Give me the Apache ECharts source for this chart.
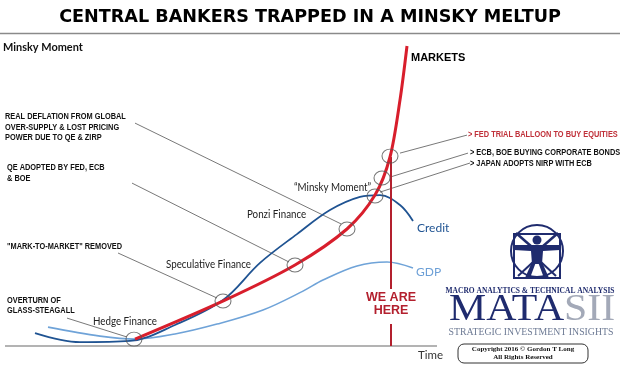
<!DOCTYPE html>
<html><head><meta charset="utf-8">
<script src="https://cdn.jsdelivr.net/npm/echarts/dist/echarts.min.js"></script>
<style>html,body{margin:0;padding:0;background:#fff}#c{width:620px;height:365px}</style>
</head><body><div id="c"></div><script>
// Time units (x) and level units (y)
const markets = [[32.5,2.3],[55.0,15.3],[72.5,27.0],[85.5,39.0],[92.5,50.3],[96.25,63.0],[98.75,82.0],[100.5,100]];
const credit = [[7.5,4.3],[18.75,1.3],[31.25,1.7],[42.5,7.0],[54.5,15.3],[63.75,27.7],[73.0,37.3],[81.25,45.3],[88.75,49.7],[93.75,50.3],[98.75,47.0],[102.0,41.7]];
const gdp = [[10.75,6.3],[23.75,3.3],[32.5,2.3],[42.5,4.0],[53.0,7.3],[64.5,12.0],[74.5,18.3],[79.5,22.0],[88.0,26.7],[95.5,28.0],[102.0,26.0]];
const circles = [[32.25,2.3],[54.5,15.0],[72.5,27.0],[85.5,39.0],[92.5,50.0],[94.25,56.0],[96.25,63.3]];
const leaders = [
  [[15.5,9.3],[30.5,3.0]],
  [[28.25,31.0],[53.0,16.0]],
  [[31.75,54.3],[71.0,28.0]],
  [[32.5,74.3],[84.0,40.7]],
  [[98.75,64.3],[115.5,70.3]],
  [[96.25,56.3],[115.75,64.3]],
  [[93.75,51.3],[116.25,61.0]]
];
const baseline = [[0,0],[108,0]];
const nowX = 96.5;
const nowUpper = [[nowX,63],[nowX,19]];
const nowLower = [[nowX,7.3],[nowX,0]];
const leftNotes = [
  ['REAL DEFLATION FROM GLOBAL',5,117],['OVER-SUPPLY & LOST PRICING',5,127.5],['POWER DUE TO QE & ZIRP',5,138],
  ['QE ADOPTED BY FED, ECB',7,168],['& BOE',7,179],
  ['"MARK-TO-MARKET" REMOVED',7,247],
  ['OVERTURN OF',7,301],['GLASS-STEAGALL',7,311]
];
const rightNotes = [
  ['> FED TRIAL BALLOON TO BUY EQUITIES',468,135,'#c0313a'],
  ['> ECB, BOE BUYING CORPORATE BONDS',470,153,'#111'],
  ['> JAPAN ADOPTS NIRP WITH ECB',470,163.5,'#111']
];
const stageLabels = [['Hedge Finance',93,322],['Speculative Finance',166,265],['Ponzi Finance',247,215],['\u201CMinsky Moment\u201D',294,188]];

const sans = '"Liberation Sans",sans-serif';
function T(text,x,y,o){o=o||{};return {type:'text',x:x,y:y,z:10,scaleX:o.sx||1,style:{text:text,fill:o.fill||'#111',fontSize:o.size||9,fontFamily:o.family||sans,fontWeight:o.weight||'bold',align:o.align||'left',verticalAlign:'middle'}};}

const graphics = [];
graphics.push(T('CENTRAL BANKERS TRAPPED IN A MINSKY MELTUP',310,17,{size:17.6,family:'"DejaVu Sans",sans-serif',align:'center',fill:'#000'}));
graphics.push({type:'line',shape:{x1:0,y1:33.5,x2:620,y2:33.5},style:{stroke:'#8a8a8a',lineWidth:1.5}});
graphics.push(T('Minsky Moment',3,47,{size:11.5,family:'Lato,sans-serif',fill:'#111',sx:0.95}));
graphics.push(T('MARKETS',411,58,{size:11,fill:'#000'}));
leftNotes.forEach(n=>graphics.push(T(n[0],n[1],n[2],{size:9,sx:0.82})));
rightNotes.forEach(n=>graphics.push(T(n[0],n[1],n[2],{size:9,fill:n[3],sx:0.82})));
stageLabels.forEach(n=>graphics.push(T(n[0],n[1],n[2],{size:10.5,family:'Lato,sans-serif',weight:'normal',fill:'#222',sx:0.93})));
graphics.push(T('Credit',417,228,{size:12,family:'Lato,sans-serif',weight:'normal',fill:'#1f5392'}));
graphics.push(T('GDP',416,272,{size:12,family:'Lato,sans-serif',weight:'normal',fill:'#6c9fd6'}));
graphics.push(T('Time',418,355,{size:11.5,family:'Lato,sans-serif',weight:'normal',fill:'#333'}));
graphics.push(T('WE ARE',391,298,{size:12.5,align:'center',fill:'#b3202e'}));
graphics.push(T('HERE',391,311,{size:12.5,align:'center',fill:'#b3202e'}));
// logo
const navy = '#1f2b6e';
graphics.push({type:'circle',shape:{cx:537,cy:251,r:26},style:{fill:'none',stroke:navy,lineWidth:2}});
graphics.push({type:'rect',shape:{x:514,y:234,width:46,height:44},style:{fill:'none',stroke:navy,lineWidth:2}});
graphics.push({type:'circle',shape:{cx:537,cy:240,r:4.5},style:{fill:navy}});
graphics.push({type:'polygon',shape:{points:[[514,245],[560,245],[560,250],[543,251],[542,264],[532,264],[531,251],[514,250]]},style:{fill:navy}});
graphics.push({type:'polygon',shape:{points:[[532,262],[536,262],[530,278],[525,278]]},style:{fill:navy}});
graphics.push({type:'polygon',shape:{points:[[538,262],[542,262],[549,278],[544,278]]},style:{fill:navy}});
graphics.push({type:'polyline',shape:{points:[[516,233],[532,247]]},style:{stroke:navy,lineWidth:2.5}});
graphics.push({type:'polyline',shape:{points:[[558,233],[542,247]]},style:{stroke:navy,lineWidth:2.5}});
graphics.push({type:'polyline',shape:{points:[[533,262],[518,276]]},style:{stroke:navy,lineWidth:2}});
graphics.push({type:'polyline',shape:{points:[[541,262],[556,276]]},style:{stroke:navy,lineWidth:2}});
graphics.push(T('MACRO ANALYTICS & TECHNICAL ANALYSIS',530,291,{size:7.5,family:'"Liberation Serif",serif',align:'center',fill:navy}));
graphics.push({type:'text',x:449,y:310,scaleX:1.1,style:{text:'{a|MATA}{b|SII}',verticalAlign:'middle',rich:{a:{fontSize:38,fontFamily:'"Liberation Serif",serif',fill:navy},b:{fontSize:38,fontFamily:'"Liberation Serif",serif',fill:'#a3a9b8'}}}});
graphics.push(T('STRATEGIC INVESTMENT INSIGHTS',531,332,{size:9.8,family:'"Liberation Serif",serif',weight:'normal',align:'center',fill:'#6d7a94'}));
graphics.push({type:'rect',shape:{x:458,y:344,width:130,height:19,r:6},style:{fill:'#fff',stroke:'#333',lineWidth:1}});
graphics.push(T('Copyright 2016 \u00A9 Gordon T Long',523,349.5,{size:7,family:'"Liberation Serif",serif',align:'center',fill:'#111'}));
graphics.push(T('All Rights Reserved',523,357.5,{size:7,family:'"Liberation Serif",serif',align:'center',fill:'#111'}));

const lineSeries = (data,color,width,extra)=>Object.assign({type:'line',data:data,symbol:'none',clip:false,silent:true,lineStyle:{color:color,width:width},itemStyle:{color:color}},extra||{});
const series = [];
series.push(lineSeries(baseline,'#9a9a9a',1.5,{z:0}));
leaders.forEach(l=>series.push(lineSeries(l,'#555',0.8,{z:1})));
series.push(lineSeries(gdp,'#6fa3d8',1.6,{smooth:0.35,z:2}));
series.push(lineSeries(credit,'#1f5392',1.8,{smooth:0.35,z:3}));
series.push(lineSeries(nowUpper,'#b3202e',2,{z:3}));
series.push(lineSeries(nowLower,'#b3202e',2,{z:3}));
series.push(lineSeries(markets,'#d81e2c',3,{smooth:0.3,z:4}));
series.push({type:'scatter',data:circles,symbol:'circle',symbolSize:[16,14],clip:false,silent:true,z:5,itemStyle:{color:'rgba(0,0,0,0)',borderColor:'#555',borderWidth:1}});

const chart = echarts.init(document.getElementById('c'),null,{renderer:'canvas'});
chart.setOption({
  animation:false,
  backgroundColor:'#fff',
  grid:{left:5,right:135,top:46,bottom:19},
  xAxis:{type:'value',min:0,max:120,show:false,splitLine:{show:false}},
  yAxis:{type:'value',min:0,max:100,show:false,splitLine:{show:false}},
  series:series,
  graphic:graphics
});
</script></body></html>
